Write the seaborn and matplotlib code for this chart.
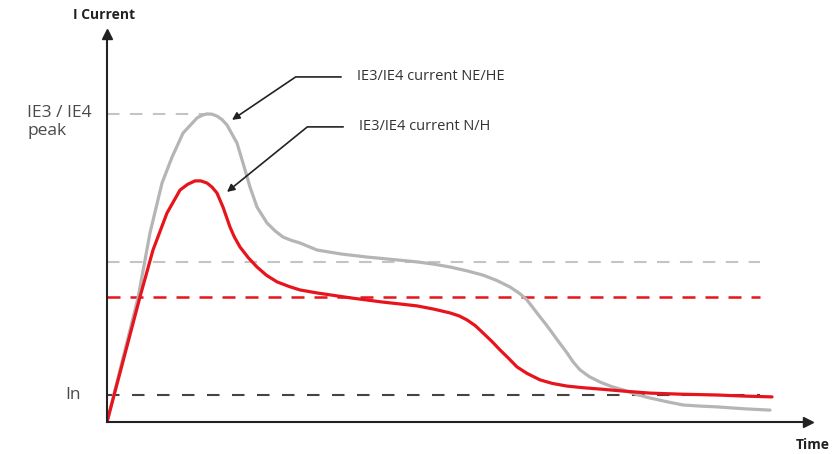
import seaborn as sns
import matplotlib.pyplot as plt
import pandas as pd

# time axis units: 0..~100, current units: In = 1
ne_time = [0, 2.14, 4.43, 6.14, 7.86, 9.29, 10.86, 12.86, 13.57, 14.29, 15.0, 15.71,
           16.43, 17.14, 18.57, 19.43, 20.43, 21.43, 22.86, 24.0, 25.14, 26.3, 27.57,
           30.0, 33.5, 37.14, 40.7, 44.29, 46.6, 49.0, 51.4, 53.71, 55.7, 57.57, 59.0,
           60.0, 61.86, 62.6, 63.29, 64.5, 65.71, 66.6, 67.57, 68.9, 70.43, 72.0,
           73.71, 75.5, 77.57, 80.0, 82.29, 84.7, 87.14, 91.0, 94.71]
ne_current = [0, 2.22, 4.59, 7.0, 8.85, 9.81, 10.70, 11.26, 11.36, 11.41, 11.4, 11.33,
              11.2, 11.0, 10.33, 9.59, 8.70, 7.96, 7.37, 7.08, 6.85, 6.73, 6.63,
              6.37, 6.22, 6.11, 6.02, 5.93, 5.85, 5.74, 5.6, 5.44, 5.24, 5.0, 4.75,
              4.52, 3.89, 3.65, 3.41, 2.98, 2.56, 2.22, 1.93, 1.68, 1.48, 1.32,
              1.19, 1.03, 0.89, 0.75, 0.63, 0.59, 0.56, 0.49, 0.44]
nh_time = [0, 4.71, 6.57, 8.57, 10.43, 11.5, 12.57, 13.4, 14.29, 15.0, 15.71, 16.57,
           17.57, 18.2, 19.0, 20.2, 21.43, 22.8, 24.29, 26.0, 27.57, 30.0, 34.7,
           39.43, 41.9, 44.29, 46.7, 49.0, 50.3, 51.43, 52.6, 53.71, 55.0, 56.14,
           57.4, 58.57, 60.0, 61.86, 63.6, 65.71, 68.0, 70.43, 74.0, 77.57, 82.0,
           87.14, 91.0, 95.0]
nh_current = [0, 4.63, 6.37, 7.74, 8.59, 8.8, 8.93, 8.93, 8.85, 8.7, 8.48, 7.96,
              7.22, 6.85, 6.48, 6.08, 5.74, 5.43, 5.19, 5.02, 4.89, 4.78, 4.6,
              4.44, 4.37, 4.30, 4.18, 4.04, 3.93, 3.78, 3.57, 3.30, 2.98, 2.67,
              2.35, 2.04, 1.8, 1.56, 1.43, 1.33, 1.27, 1.22, 1.14, 1.07, 1.03,
              1.0, 0.96, 0.93]

peak_level = 11.41
peak_time = 14.29
ne_level = 5.93
nh_level = 4.63
rated_level = 1.0
level_end = 93.3

sns.set_style("white")
plt.rcParams['font.family'] = ['Open Sans', 'DejaVu Sans']

fig = plt.figure(figsize=(8.32, 4.54), dpi=100)
ax = fig.add_axes([107 / 832, 32 / 454, 701 / 832, 388 / 454])

# reference levels
ax.plot([0, level_end], [ne_level, ne_level], color='#c4c4c4', lw=1.5, dashes=(6, 5))
ax.plot([0, peak_time], [peak_level, peak_level], color='#c4c4c4', lw=1.5, dashes=(6, 5))
ax.plot([0, level_end], [nh_level, nh_level], color='#e8141c', lw=1.8, dashes=(5.2, 4))
ax.plot([0, level_end], [rated_level, rated_level], color='#444444', lw=1.5, dashes=(6, 6))

df_ne = pd.DataFrame({'time': ne_time, 'current': ne_current})
df_nh = pd.DataFrame({'time': nh_time, 'current': nh_current})
sns.lineplot(data=df_ne, x='time', y='current', ax=ax, color='#b5b5b5', lw=2.3,
             sort=False, solid_joinstyle='round', solid_capstyle='round')
sns.lineplot(data=df_nh, x='time', y='current', ax=ax, color='#e8141c', lw=2.3,
             sort=False, solid_joinstyle='round', solid_capstyle='round')

ax.set_xlim(0, 100.14)
ax.set_ylim(0, 14.37)
for side in ['top', 'right']:
    ax.spines[side].set_visible(False)
for side in ['left', 'bottom']:
    ax.spines[side].set_color('#222222')
    ax.spines[side].set_linewidth(1.5)
ax.set_xticks([])
ax.set_yticks([])
ax.set_xlabel('')
ax.set_ylabel('')
ax.plot(1, 0, '>', color='#222222', ms=7, transform=ax.get_yaxis_transform(), clip_on=False)
ax.plot(0, 1, '^', color='#222222', ms=7, transform=ax.get_xaxis_transform(), clip_on=False)

ax.text(-0.43, 15.07, 'I Current', fontsize=10, fontweight='bold', ha='center', va='center',
        color='#222222', clip_on=False)
ax.text(103.3, -0.85, 'Time', fontsize=10, fontweight='bold', ha='right', va='center',
        color='#222222', clip_on=False)
ax.text(-11.4, 11.12, 'IE3 / IE4\npeak', fontsize=12.5, ha='left', va='center',
        color='#4a4a4a', linespacing=1.2, clip_on=False)
ax.text(-5.9, rated_level, 'In', fontsize=12.5, ha='left', va='center', color='#4a4a4a',
        clip_on=False)

# callouts
ax.annotate('IE3/IE4 current NE/HE', xy=(17.86, 11.19), xytext=(35.7, 12.78),
            fontsize=10.5, color='#333333', va='center', ha='left',
            arrowprops=dict(arrowstyle='-|>', color='#222222', lw=1.2,
                            connectionstyle='angle,angleA=180,angleB=34,rad=0',
                            shrinkA=9, shrinkB=0, mutation_scale=11))
ax.annotate('IE3/IE4 current N/H', xy=(17.14, 8.52), xytext=(36.0, 10.93),
            fontsize=10.5, color='#333333', va='center', ha='left',
            arrowprops=dict(arrowstyle='-|>', color='#222222', lw=1.2,
                            connectionstyle='angle,angleA=180,angleB=39,rad=0',
                            shrinkA=9, shrinkB=0, mutation_scale=11))

fig.savefig('out.png', dpi=100)
